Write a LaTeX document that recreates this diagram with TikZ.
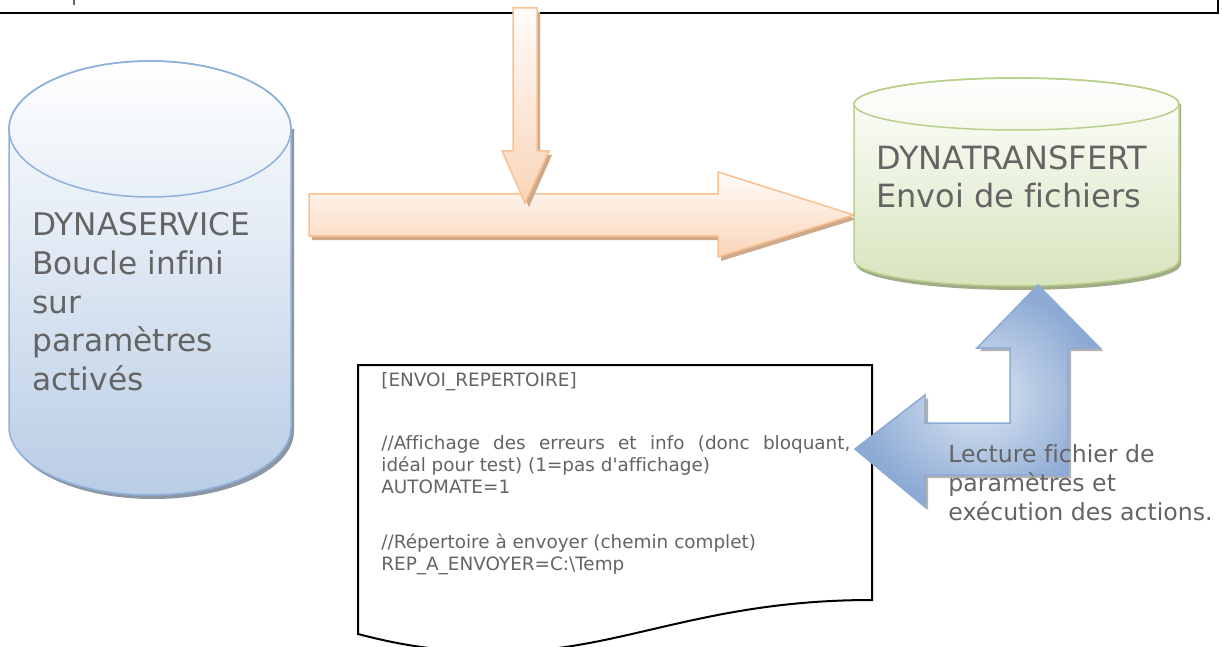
\documentclass[tikz,border=0pt]{standalone}
\usepackage{fontspec}
\setmainfont{DejaVu Sans}[Ligatures={TeXOff,NoCommon}]
\definecolor{txtgray}{RGB}{100,100,100}
\definecolor{bluefill}{RGB}{185,205,229}
\definecolor{blueline}{RGB}{141,176,220}
\definecolor{bluedark}{RGB}{140,170,212}
\definecolor{bluelight}{RGB}{222,231,243}
\definecolor{greenfill}{RGB}{215,228,189}
\definecolor{greenline}{RGB}{184,208,140}
\definecolor{greenshadow}{RGB}{160,172,135}
\definecolor{peachfill}{RGB}{250,213,184}
\definecolor{peachline}{RGB}{250,192,144}
\definecolor{peachshadow}{RGB}{205,170,140}
\definecolor{grayshadow}{RGB}{140,150,165}
\begin{document}
\begin{tikzpicture}[x=0.5pt,y=-0.5pt,
  bigtext/.style={text=txtgray,inner sep=0,align=left,anchor=north west},
  shape line/.style={line width=0.75pt}]
\useasboundingbox (0,0) rectangle (1222,647);
% cut-off box on top
\draw[txtgray,line width=1pt] (74,0) -- (74,5);
\draw[line width=1.2pt] (-10,-20) rectangle (1218,13);
% orange arrows
\fill[peachshadow] (312,198) -- (721,198) -- (721,176) -- (857,219) -- (721,261) -- (721,240) -- (312,240) -- cycle;
\draw[shape line,draw=peachline,top color=white!60!peachfill!20,bottom color=peachfill]
  (309,194) -- (718,194) -- (718,172) -- (854,215) -- (718,257) -- (718,236) -- (309,236) -- cycle;
\fill[peachshadow] (516,12) -- (540,12) -- (540,155) -- (552,155) -- (529,207) -- (505,155) -- (516,155) -- cycle;
\draw[shape line,draw=peachline,top color=white!60!peachfill!20,bottom color=peachfill]
  (513,8) -- (537,8) -- (537,151) -- (549,151) -- (525,203) -- (502,151) -- (513,151) -- cycle;
% DYNASERVICE
\fill[grayshadow] (12,129) -- (12,431) arc[start angle=180,end angle=360,x radius=70.5pt,y radius=34pt] -- (294,129) -- cycle;
\draw[shape line,draw=blueline,top color=white,bottom color=bluefill]
  (9,129) -- (9,427) arc[start angle=180,end angle=360,x radius=70.5pt,y radius=34pt]
  -- (291,129) arc[start angle=0,end angle=180,x radius=70.5pt,y radius=34pt] -- cycle;
\draw[shape line,draw=blueline] (150,129) ellipse[x radius=70.5pt,y radius=34pt];
\node[bigtext,font=\fontsize{15.6}{19.4}\selectfont] (service) at (32,212)
  {DYNASERVICE\\Boucle infini\\sur\\paramètres\\activés};
% DYNATRANSFERT
\fill[greenshadow] (856,104) -- (856,264) arc[start angle=180,end angle=360,x radius=81.25pt,y radius=13pt] -- (1181,104) -- cycle;
\draw[shape line,draw=greenline,top color=white,bottom color=greenfill]
  (854,104) -- (854,260) arc[start angle=180,end angle=360,x radius=81.25pt,y radius=13pt]
  -- (1179,104) arc[start angle=0,end angle=180,x radius=81.25pt,y radius=13pt] -- cycle;
\draw[shape line,draw=greenline] (1016.5,104) ellipse[x radius=81.25pt,y radius=13pt];
\node[bigtext,font=\fontsize{16}{19.4}\selectfont] (transfert) at (876,145)
  {DYNATRANSFERT\\Envoi de fichiers};
% parameter file
\draw[line width=1pt,fill=white] (358,365) -- (872,365) -- (872,600)
  .. controls (700,600) and (620,652) .. (500,652)
  .. controls (440,652) and (400,645) .. (358,634) -- cycle;
\node[text=txtgray,inner sep=0,anchor=north west,text width=234.5pt,align=justify,
  font=\fontsize{9.2}{11}\selectfont] (params) at (381,372)
  {[ENVOI\_REPERTOIRE]\\[20.5pt]
   //Affichage des erreurs et info (donc bloquant,\linebreak
   idéal pour test) (1=pas d'affichage)\\
   AUTOMATE=1\\[16.5pt]
   //Répertoire à envoyer (chemin complet)\\
   REP\_A\_ENVOYER=C:\textbackslash Temp};
% read arrow
\fill[gray!60] (858,452) -- (928,398) -- (928,426) -- (1013,426) -- (1013,351) -- (980,351) -- (1041,288)
  -- (1103,351) -- (1071,351) -- (1071,478) -- (928,478) -- (928,510) -- cycle;
\draw[shape line,draw=bluedark,inner color=bluelight,outer color=bluedark]
  (855,449) -- (925,395) -- (925,423) -- (1010,423) -- (1010,348) -- (977,348) -- (1038,285)
  -- (1100,348) -- (1068,348) -- (1068,475) -- (925,475) -- (925,507) -- cycle;
\node[text=txtgray,inner sep=0,anchor=north west,align=left,
  font=\fontsize{11.8}{14.5}\selectfont] (lecture) at (948,444)
  {Lecture fichier de\\paramètres et\\exécution des actions.};
\end{tikzpicture}
\end{document}
